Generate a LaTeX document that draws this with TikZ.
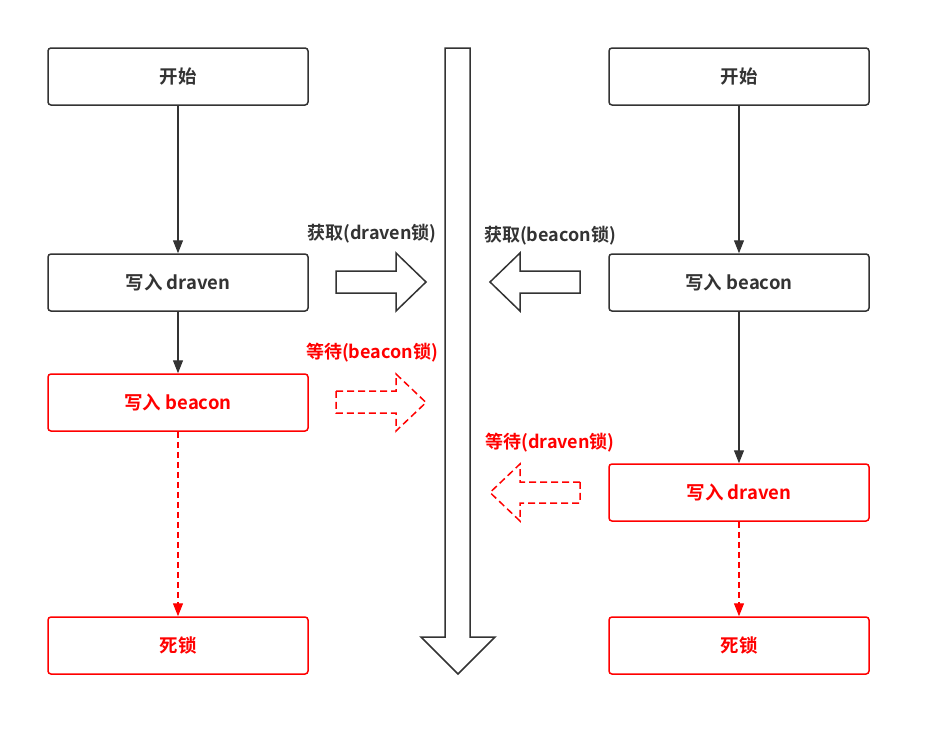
\documentclass[tikz,border=0pt]{standalone}
\usepackage{fontspec}
\setmainfont{Noto Sans CJK SC}[BoldFont={* Bold}]
\usetikzlibrary{arrows.meta}
\definecolor{dk}{HTML}{333333}
\definecolor{rd}{HTML}{FF0000}
\tikzset{
  box/.style={draw=dk, line width=1.5pt, rounded corners=3pt, minimum width=260pt, minimum height=57pt, font=\fontsize{18.5}{20}\selectfont\bfseries, text=dk, inner sep=0pt},
  redbox/.style={box, draw=rd, text=rd},
  flow/.style={draw=dk, line width=1.2pt, -{Triangle[length=13pt,width=10pt]}},
  redflow/.style={draw=rd, line width=1.2pt, dash pattern=on 6pt off 4pt, -{Triangle[length=13pt,width=10pt]}},
  fat/.style={draw=dk, line width=1.5pt, fill=white, line join=miter},
  fatred/.style={draw=rd, line width=1.5pt, dash pattern=on 7pt off 4pt, line join=miter},
  lbl/.style={font=\fontsize{18}{20}\selectfont\bfseries, text=dk, inner sep=0pt},
  redlbl/.style={lbl, text=rd}
}
\begin{document}
\begin{tikzpicture}[x=1pt,y=-1pt]
\useasboundingbox (0,0) rectangle (931,736);
% boxes
\node[box] (ls) at (178,76.5) {开始};
\node[box] (ld) at (178,282.5) {写入 draven};
\node[redbox] (lb) at (178,402.5) {写入 beacon};
\node[redbox] (lx) at (178,645.5) {死锁};
\node[box] (rs) at (739,76.5) {开始};
\node[box] (rb) at (739,282.5) {写入 beacon};
\node[redbox] (rd) at (739,492.5) {写入 draven};
\node[redbox] (rx) at (739,645.5) {死锁};
% connectors
\draw[flow] (ls) -- (ld);
\draw[flow] (ld) -- (lb);
\draw[redflow] (lb) -- (lx);
\draw[flow] (rs) -- (rb);
\draw[flow] (rb) -- (rd);
\draw[redflow] (rd) -- (rx);
% central time arrow
\draw[fat] (445,48) -- (470,48) -- (470,637) -- (495,637) -- (458,674) -- (421,637) -- (445,637) -- cycle;
% acquire arrows
\draw[fat] (336,271) -- (396,271) -- (396,253) -- (426,282) -- (396,311) -- (396,293) -- (336,293) -- cycle;
\draw[fat] (580,271) -- (520,271) -- (520,253) -- (490,282) -- (520,311) -- (520,293) -- (580,293) -- cycle;
% wait arrows
\draw[fatred] (336,391) -- (396,391) -- (396,374) -- (426,402.5) -- (396,431) -- (396,413) -- (336,413) -- cycle;
\draw[fatred] (580,482) -- (520,482) -- (520,464) -- (490,492.5) -- (520,521) -- (520,503) -- (580,503) -- cycle;
% labels
\node[lbl] (l1) at (372,234) {获取(draven锁)};
\node[lbl] (l2) at (550,236) {获取(beacon锁)};
\node[redlbl] (l3) at (372,353) {等待(beacon锁)};
\node[redlbl] (l4) at (550,443) {等待(draven锁)};
\end{tikzpicture}
\end{document}
